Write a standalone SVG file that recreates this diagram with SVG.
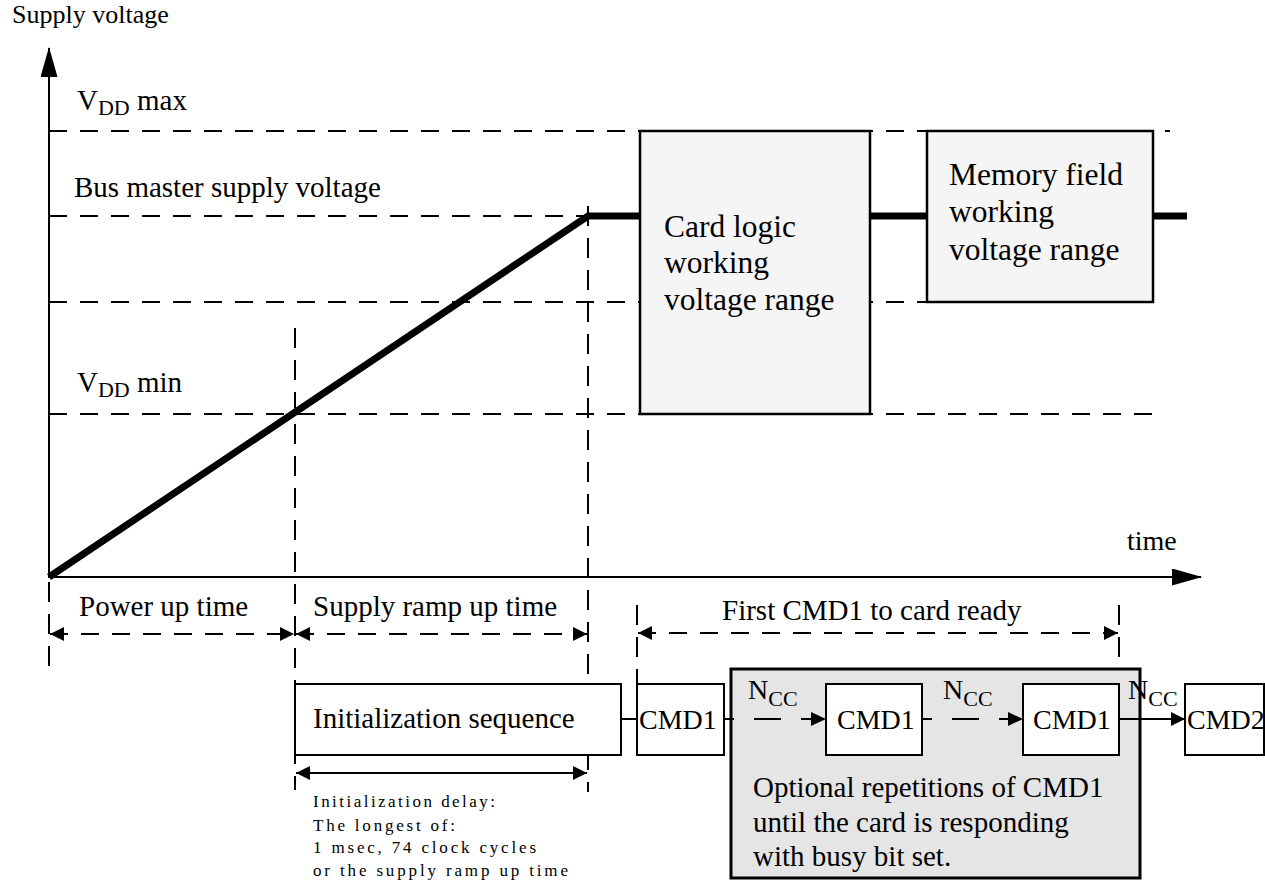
<svg xmlns="http://www.w3.org/2000/svg" width="1265" height="881" viewBox="0 0 1265 881">
<style>
text { font-family: "Liberation Serif", "Times New Roman", serif; fill: #000; }
.lbl { font-size: 29px; }
.cmd { font-size: 28px; }
.big { font-size: 31.5px; }
.sub { font-size: 22px; }
.small { font-size: 17px; }
.dash { stroke: #000; stroke-width: 2; stroke-dasharray: 18 13; fill: none; }
.vdash { stroke: #000; stroke-width: 2; stroke-dasharray: 20 12; fill: none; }
.thick { stroke: #000; stroke-width: 7; fill: none; stroke-linejoin: miter; }
.solid { stroke: #000; stroke-width: 2; fill: none; }
.box { fill: #fff; stroke: #000; stroke-width: 2; }
.range { fill: #f5f5f5; stroke: #000; stroke-width: 2.5; }
.opt { fill: #e5e5e5; stroke: #000; stroke-width: 3; }
.head { fill: #000; stroke: none; }
</style>
<defs>
<marker id="ah" viewBox="0 0 14 14" refX="14" refY="7" markerWidth="14" markerHeight="14" markerUnits="userSpaceOnUse" orient="auto-start-reverse"><path d="M0,0 L14,7 L0,14 Z" fill="#000"/></marker>
<marker id="bigah" viewBox="0 0 30 17" refX="29" refY="8.5" markerWidth="30" markerHeight="17" markerUnits="userSpaceOnUse" orient="auto"><path d="M0,0 L30,8.5 L0,17 Z" fill="#000"/></marker>
</defs>

<g id="grid">
<line x1="49" y1="131" x2="1170" y2="131" class="dash"/>
<line x1="49" y1="216" x2="588" y2="216" class="dash"/>
<line x1="49" y1="302" x2="927" y2="302" class="dash"/>
<line x1="49" y1="414" x2="1155" y2="414" class="dash"/>
<line x1="295" y1="328" x2="295" y2="790" class="vdash"/>
<line x1="588" y1="206" x2="588" y2="792" class="vdash"/>
<line x1="49" y1="582" x2="49" y2="672" class="vdash"/>
<line x1="637" y1="605" x2="637" y2="684" class="vdash"/>
<line x1="1119" y1="605" x2="1119" y2="684" class="vdash"/>
</g>

<g id="axes">
<line x1="49" y1="578" x2="49" y2="48" class="solid" marker-end="url(#bigah)"/>
<line x1="48" y1="577" x2="1201" y2="577" class="solid" marker-end="url(#bigah)"/>
<text x="12" y="23" style="font-size:26px">Supply voltage</text>
<text x="1127" y="550" class="cmd">time</text>
<text x="77" y="110" class="lbl">V<tspan class="sub" dy="5">DD</tspan><tspan dy="-5"> max</tspan></text>
<text x="74" y="197" class="lbl">Bus master supply voltage</text>
<text x="77" y="392" class="lbl">V<tspan class="sub" dy="5">DD</tspan><tspan dy="-5"> min</tspan></text>
</g>

<g id="supply-curve">
<polyline points="49,577 588,216 640,216" class="thick"/>
<line x1="870" y1="216" x2="927" y2="216" class="thick"/>
<line x1="1153" y1="216" x2="1187" y2="216" class="thick"/>
</g>

<g id="card-logic">
<rect x="640" y="131" width="230" height="283" class="range"/>
<text x="664" y="237" class="big">Card logic</text>
<text x="664" y="273" class="big">working</text>
<text x="664" y="310" class="big">voltage range</text>
</g>

<g id="memory-field">
<rect x="927" y="131" width="226" height="171" class="range"/>
<text x="949" y="185" class="big">Memory field</text>
<text x="949" y="222" class="big">working</text>
<text x="949" y="260" class="big">voltage range</text>
</g>

<g id="dimensions">
<line x1="50" y1="634" x2="294" y2="634" class="dash" marker-start="url(#ah)" marker-end="url(#ah)"/>
<line x1="296" y1="634" x2="587" y2="634" class="dash" marker-start="url(#ah)" marker-end="url(#ah)"/>
<line x1="638" y1="633" x2="1118" y2="633" class="dash" marker-start="url(#ah)" marker-end="url(#ah)"/>
<line x1="296" y1="773" x2="587" y2="773" class="solid" marker-start="url(#ah)" marker-end="url(#ah)"/>
<text x="79" y="616" class="lbl">Power up time</text>
<text x="313" y="616" class="lbl">Supply ramp up time</text>
<text x="722" y="620" class="lbl">First CMD1 to card ready</text>
<text x="313" y="807" class="small" textLength="182" lengthAdjust="spacing">Initialization delay:</text>
<text x="313" y="831" class="small" textLength="142" lengthAdjust="spacing">The longest of:</text>
<text x="313" y="853" class="small" textLength="223" lengthAdjust="spacing">1 msec, 74 clock cycles</text>
<text x="313" y="876" class="small" textLength="255" lengthAdjust="spacing">or the supply ramp up time</text>
</g>

<g id="optional-repetitions">
<rect x="731" y="669" width="409" height="209" class="opt"/>
<text x="753" y="797" class="lbl">Optional repetitions of CMD1</text>
<text x="753" y="832" class="lbl">until the card is responding</text>
<text x="753" y="866" class="lbl">with busy bit set.</text>
</g>

<g id="init-sequence">
<rect x="295" y="684" width="326" height="71" class="box"/>
<text x="313" y="728" class="lbl">Initialization sequence</text>
</g>

<g id="cmd1-first">
<rect x="637" y="684" width="87" height="71" class="box"/>
<text x="639" y="729" class="cmd">CMD1</text>
</g>

<g id="cmd1-second">
<rect x="826" y="684" width="96" height="71" class="box"/>
<text x="837" y="729" class="cmd">CMD1</text>
</g>

<g id="cmd1-third">
<rect x="1023" y="684" width="96" height="71" class="box"/>
<text x="1033" y="729" class="cmd">CMD1</text>
</g>

<g id="cmd2">
<rect x="1185" y="684" width="79" height="71" class="box"/>
<text x="1187" y="729" class="cmd">CMD2</text>
</g>

<g id="connectors">
<line x1="621" y1="719" x2="637" y2="719" class="solid"/>
<path d="M724,719 H734 M754,719 H781 M801,719 H812" class="solid"/>
<path d="M811,712 L826,719 L811,726 Z" class="head"/>
<path d="M922,719 H932 M952,719 H979 M999,719 H1009" class="solid"/>
<path d="M1008,712 L1023,719 L1008,726 Z" class="head"/>
<line x1="1119" y1="719" x2="1185" y2="719" class="solid" marker-end="url(#ah)"/>
<text x="748" y="699" class="cmd">N<tspan class="sub" dy="7">CC</tspan></text>
<text x="943" y="699" class="cmd">N<tspan class="sub" dy="7">CC</tspan></text>
<text x="1128" y="699" class="cmd">N<tspan class="sub" dy="7">CC</tspan></text>
</g>
</svg>
